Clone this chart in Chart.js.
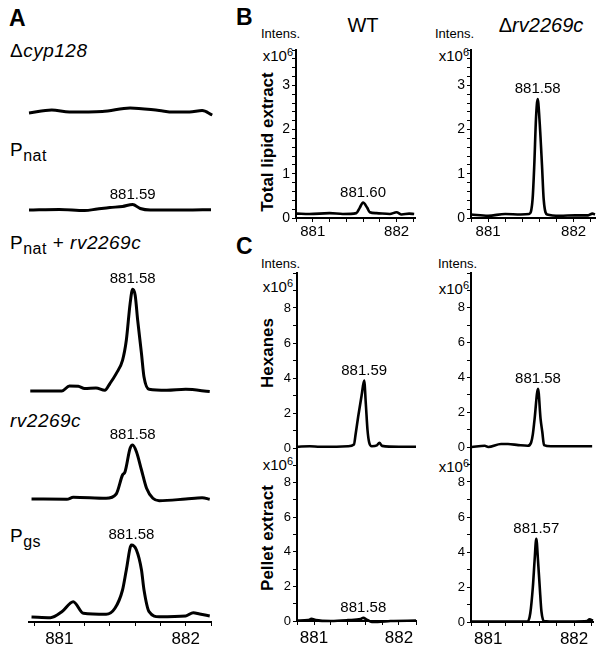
<!DOCTYPE html>
<html>
<head>
<meta charset="utf-8">
<script src="https://cdn.jsdelivr.net/npm/chart.js@4.4.1/dist/chart.umd.min.js"></script>
<style>
  body { margin: 0; background: #fff; }
  #fig { position: relative; width: 604px; height: 652px; overflow: hidden; background: #fff;
         font-family: "Liberation Sans", Arial, sans-serif; color: #000; }
  #fig canvas { position: absolute; }
  .t { position: absolute; white-space: nowrap; line-height: 1; }
  .pl { font-weight: bold; font-size: 23px; }
  .strain { font-size: 19px; letter-spacing: 0.5px; }
  .strain sub { font-size: 16px; vertical-align: -5px; }
  .head { font-size: 20px; transform: translateX(-50%); }
  .int { font-size: 13px; }
  .xp { font-size: 15px; text-align: right; }
  .xp sup { font-size: 11px; vertical-align: 5px; }
  .rot { font-size: 17px; font-weight: bold; transform: translate(-50%, -50%) rotate(-90deg); }
</style>
</head>
<body>
<div id="fig">
  <div class="t pl" style="left:9px;top:7px">A</div>
  <div class="t pl" style="left:236px;top:6px">B</div>
  <div class="t pl" style="left:236px;top:235px">C</div>

  <div class="t strain" style="left:10px;top:41px">&Delta;<i>cyp128</i></div>
  <div class="t strain" style="left:10px;top:140px">P<sub>nat</sub></div>
  <div class="t strain" style="left:10px;top:233px">P<sub>nat</sub> + <i>rv2269c</i></div>
  <div class="t strain" style="left:10px;top:411px"><i>rv2269c</i></div>
  <div class="t strain" style="left:10px;top:526px">P<sub>gs</sub></div>

  <div class="t head" style="left:363px;top:15px">WT</div>
  <div class="t head" style="left:541px;top:15px">&Delta;<i>rv2269c</i></div>

  <div class="t int" style="left:261px;top:27px">Intens.</div>
  <div class="t int" style="left:435px;top:27px">Intens.</div>
  <div class="t int" style="left:261px;top:257px">Intens.</div>
  <div class="t int" style="left:438px;top:257px">Intens.</div>

  <div class="t xp" style="right:311px;top:47px">x10<sup>6</sup></div>
  <div class="t xp" style="right:135px;top:47px">x10<sup>6</sup></div>
  <div class="t xp" style="right:311px;top:278px">x10<sup>6</sup></div>
  <div class="t xp" style="right:135px;top:280px">x10<sup>6</sup></div>
  <div class="t xp" style="right:311px;top:456px">x10<sup>6</sup></div>
  <div class="t xp" style="right:135px;top:458px">x10<sup>6</sup></div>

  <div class="t rot" style="left:267px;top:142px">Total lipid extract</div>
  <div class="t rot" style="left:267px;top:353px">Hexanes</div>
  <div class="t rot" style="left:267px;top:538px">Pellet extract</div>
</div>
<script>
// m/z tick labels and intensity tick labels
const xMajor = [881, 882];
const yMajorB = [0, 1, 2, 3];
const yMajorC = [0, 2, 4, 6, 8];

// panel A, relative intensity
const mzCyp128 = [880.76, 880.94, 881.08, 881.34, 881.56, 881.79, 881.90, 882.03, 882.13, 882.21];
const intCyp128 = [0, 3, 1, 1.5, 5, 2.5, 1, 1, 2.5, -2];

const mzPnat = [880.76, 881.0, 881.2, 881.3, 881.4, 881.5, 881.58, 881.64, 881.72, 882.0, 882.2];
const intPnat = [0, 0.5, -0.5, 1, 2.5, 3.5, 5.5, 1.5, 0, 0, 0.3];

const mzPnatRv = [880.77, 881.02, 881.08, 881.15, 881.20, 881.29, 881.36, 881.40, 881.45, 881.50, 881.53,
                  881.56, 881.58, 881.60, 881.62, 881.65, 881.67, 881.71, 881.85, 882.0, 882.19];
const intPnatRv = [0, 0, 5, 4.7, 2.4, 3, 0.7, 7.4, 17.4, 30.7, 50.7, 87.4, 101.7, 95.7, 70.7, 37.4, 14, 1.7, 0.7, 1.7, -0.6];

const mzRv = [880.78, 881.06, 881.11, 881.37, 881.45, 881.50, 881.52, 881.56, 881.58, 881.61, 881.65,
              881.69, 881.74, 881.79, 882.0, 882.13, 882.19];
const intRv = [0, -0.3, 1.7, 0.7, 5, 24, 27.3, 50.7, 54, 47.3, 29, 10.7, 0.7, -1.7, 0, 1.3, -0.3];

const mzPgs = [880.78, 880.93, 881.02, 881.11, 881.19, 881.37, 881.44, 881.50, 881.53, 881.57, 881.61,
               881.65, 881.67, 881.71, 881.79, 882.0, 882.06, 882.11, 882.19];
const intPgs = [0, -0.7, 5.3, 15.3, 3.7, 2.7, 8.7, 27, 47, 72, 67, 47, 27, 5.3, 0.3, 1, 4.3, 3, 1];

// panel B, total lipid extract (x10^6)
const mzTleWT = [880.81, 880.96, 881.20, 881.36, 881.52, 881.56, 881.60, 881.65, 881.68, 881.76, 881.92, 882.0, 882.06, 882.15, 882.21];
const intTleWT = [0.10, 0.09, 0.11, 0.09, 0.11, 0.23, 0.35, 0.23, 0.13, 0.11, 0.09, 0.13, 0.08, 0.10, 0.09];

const mzTleKO = [880.80, 881.0, 881.2, 881.38, 881.48, 881.52, 881.54, 881.56, 881.58, 881.60, 881.63,
                 881.65, 881.69, 881.84, 882.02, 882.17, 882.22, 882.25];
const intTleKO = [0.08, 0.05, 0.09, 0.08, 0.09, 0.42, 1.2, 2.25, 2.69, 2.25, 1.2, 0.42, 0.08, 0.05, 0.06, 0.06, 0.1, 0.08];

// panel C, hexanes and pellet extract (x10^6)
const mzHexWT = [880.80, 880.95, 881.07, 881.22, 881.40, 881.47, 881.49, 881.52, 881.56, 881.59, 881.61,
                 881.63, 881.65, 881.68, 881.74, 881.77, 881.80, 882.0, 882.2];
const intHexWT = [0.07, 0.1, 0.07, 0.07, 0.1, 0.2, 0.8, 1.8, 3.0, 3.85, 2.5, 1.0, 0.3, 0.1, 0.15, 0.3, 0.12, 0.07, 0.07];

const mzHexKO = [880.81, 880.96, 881.0, 881.15, 881.23, 881.35, 881.46, 881.50, 881.52, 881.54, 881.58,
                 881.61, 881.63, 881.65, 881.73, 882.21];
const intHexKO = [0, 0.07, 0, 0.17, 0.17, 0.11, 0.07, 0.26, 0.74, 1.6, 3.35, 1.6, 0.86, 0.11, 0.04, 0.04];

const mzPelWT = [880.80, 880.93, 880.97, 881.02, 881.2, 881.4, 881.55, 881.58, 881.62, 881.68, 881.75, 881.9, 882.2];
const intPelWT = [0.02, 0.05, 0.12, 0.05, 0.0, 0.05, 0.12, 0.18, 0.08, -0.05, -0.05, 0.0, 0.02];

const mzPelKO = [880.80, 881.0, 881.3, 881.46, 881.49, 881.52, 881.54, 881.56, 881.58, 881.60, 881.62,
                 881.65, 881.8, 882.0, 882.15, 882.18, 882.22];
const intPelKO = [0.02, 0.02, 0.03, 0.03, 0.5, 2.0, 3.5, 4.75, 3.5, 2.0, 0.6, 0.05, 0.02, 0.03, 0.05, 0.15, 0.08];

const FONT = '"Liberation Sans", Arial, sans-serif';
const fig = document.getElementById('fig');

const isIn = (arr, v) => arr.some(a => Math.abs(a - v) < 1e-6);

// writes the m/z value above the highest point
const peakLabel = {
  id: 'peakLabel',
  afterDatasetsDraw(chart, args, opts) {
    if (!opts.text) return;
    const vals = chart.data.datasets[0].data;
    const pts = chart.getDatasetMeta(0).data;
    let k = 0;
    vals.forEach((p, i) => { if (p.y > vals[k].y) k = i; });
    const ctx = chart.ctx;
    ctx.save();
    ctx.font = '15px ' + FONT;
    ctx.fillStyle = '#000';
    ctx.textAlign = 'center';
    ctx.textBaseline = 'middle';
    ctx.fillText(opts.text, pts[k].x, pts[k].y - 10);
    ctx.restore();
  }
};

// box = plot area on the page (l, t, r, b)
function spectrum(box, mz, inten, o) {
  const padL = o.yAxis ? 30 : 6, padR = 8, padT = 26, padB = o.xAxis ? 34 : 10;
  const l = Math.round(box.l), t = Math.round(box.t), r = Math.round(box.r), b = Math.round(box.b);
  const cv = document.createElement('canvas');
  cv.width = r - l + padL + padR;
  cv.height = b - t + padT + padB;
  cv.style.left = (l - padL) + 'px';
  cv.style.top = (t - padT) + 'px';
  fig.appendChild(cv);

  new Chart(cv, {
    type: 'line',
    data: {
      datasets: [{
        data: mz.map((x, i) => ({ x: x, y: inten[i] })),
        borderColor: '#000',
        borderWidth: o.lw || 2.6,
        pointRadius: 0,
        cubicInterpolationMode: 'monotone',
        clip: false
      }]
    },
    options: {
      responsive: false,
      animation: false,
      events: [],
      layout: { padding: { left: o.yAxis ? 0 : padL, right: padR, top: padT, bottom: o.xAxis ? 0 : padB } },
      plugins: {
        legend: { display: false },
        tooltip: { enabled: false },
        peakLabel: { text: o.label }
      },
      scales: {
        x: {
          type: 'linear',
          min: o.xMin, max: o.xMax,
          display: !!o.xAxis,
          afterFit: s => { s.height = o.xAxis ? padB : 0; },
          border: { color: '#000', width: 2 },
          grid: { drawOnChartArea: false, color: '#000', tickLength: 4 },
          ticks: {
            stepSize: 0.2, includeBounds: false, autoSkip: false, maxRotation: 0,
            padding: o.xPad || 2, color: '#000',
            font: { family: FONT, size: o.xFont || 17 },
            callback: v => isIn(xMajor, v) ? String(Math.round(v)) : ''
          }
        },
        y: {
          type: 'linear',
          min: o.yMin, max: o.yMax,
          display: !!o.yAxis,
          afterFit: s => { s.width = o.yAxis ? padL : 0; },
          border: { color: '#000', width: 2 },
          grid: { drawOnChartArea: false, color: '#000', tickLength: 4 },
          ticks: {
            stepSize: o.yStep || 1, autoSkip: false, padding: 2, color: '#000',
            font: { family: FONT, size: o.yFont || 13 },
            callback: v => (o.yMajor && isIn(o.yMajor, v)) ? String(Math.round(v)) : ''
          }
        }
      }
    },
    plugins: [peakLabel]
  });
}

// panel A: stacked traces, 1 unit ~ 1 px
const aBox = base => ({ l: 29, r: 211, t: base - 105, b: base + 5 });
const aOpt = { xMin: 880.76, xMax: 882.2, yMin: -5, yMax: 105, lw: 3 };
spectrum(aBox(112.5), mzCyp128, intCyp128, Object.assign({}, aOpt));
spectrum(aBox(210), mzPnat, intPnat, Object.assign({ label: '881.59' }, aOpt));
spectrum(aBox(391), mzPnatRv, intPnatRv, Object.assign({ label: '881.58' }, aOpt));
spectrum(aBox(499), mzRv, intRv, Object.assign({ label: '881.58' }, aOpt));
spectrum(aBox(617), mzPgs, intPgs, Object.assign({ label: '881.58', xAxis: true, xPad: 3 }, aOpt));

// panel B
const bOpt = { yAxis: true, xAxis: true, yMin: 0, yMax: 3.8, yStep: 0.2, yMajor: yMajorB, yFont: 14, xFont: 15, xPad: 1 };
spectrum({ l: 296, r: 415, t: 50, b: 217.5 }, mzTleWT, intTleWT,
         Object.assign({ label: '881.60', xMin: 880.8, xMax: 882.22 }, bOpt));
spectrum({ l: 471, r: 595, t: 50, b: 217.5 }, mzTleKO, intTleKO,
         Object.assign({ label: '881.58', xMin: 880.8, xMax: 882.25 }, bOpt));

// panel C
const cOpt = { yAxis: true, yMin: 0, yMax: 10, yStep: 1, yMajor: yMajorC, yFont: 13 };
spectrum({ l: 297, r: 416, t: 273, b: 448 }, mzHexWT, intHexWT,
         Object.assign({ label: '881.59', xMin: 880.8, xMax: 882.2 }, cOpt));
spectrum({ l: 297, r: 416, t: 448, b: 620.5 }, mzPelWT, intPelWT,
         Object.assign({ label: '881.58', xMin: 880.8, xMax: 882.2, xAxis: true, xPad: 3 }, cOpt));
spectrum({ l: 471, r: 593, t: 273, b: 447 }, mzHexKO, intHexKO,
         Object.assign({ label: '881.58', xMin: 880.8, xMax: 882.22 }, cOpt));
spectrum({ l: 471, r: 593, t: 447, b: 622 }, mzPelKO, intPelKO,
         Object.assign({ label: '881.57', xMin: 880.8, xMax: 882.22, xAxis: true, xPad: 3 }, cOpt));
</script>
</body>
</html>
